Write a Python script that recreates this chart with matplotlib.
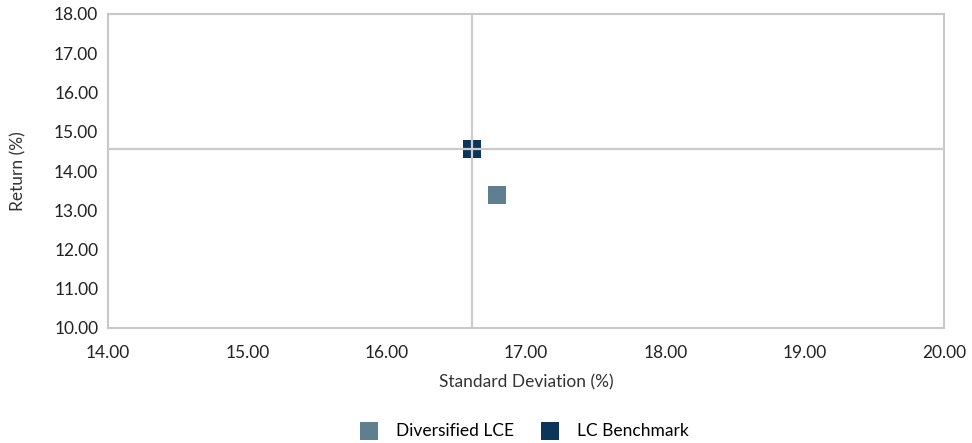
import matplotlib
matplotlib.use("Agg")
import matplotlib.pyplot as plt

plt.rcParams['font.family'] = ['Lato', 'DejaVu Sans']

series_names = ["Diversified LCE", "LC Benchmark"]
std_dev = [16.79, 16.61]
returns = [13.39, 14.56]
colors = ["#5F7F91", "#0B3559"]
bench_x = 16.61
bench_y = 14.56

fig = plt.figure(figsize=(9.72, 4.43), dpi=100)
ax = fig.add_axes([108/972, 1-328/443, (944-108)/972, (328-14)/443])

for name, x, y, c in zip(series_names, std_dev, returns, colors):
    ax.scatter([x], [y], marker='s', s=150, color=c, label=name, zorder=2, linewidths=0)

ax.axvline(bench_x, color="#cccccc", lw=1.6, zorder=3)
ax.axhline(bench_y, color="#cccccc", lw=1.6, zorder=3)

ax.set_xlim(14, 20)
ax.set_ylim(10, 18)
ax.set_xticks([14, 15, 16, 17, 18, 19, 20])
ax.set_yticks([10, 11, 12, 13, 14, 15, 16, 17, 18])
ax.xaxis.set_major_formatter(matplotlib.ticker.FormatStrFormatter('%.2f'))
ax.yaxis.set_major_formatter(matplotlib.ticker.FormatStrFormatter('%.2f'))
ax.tick_params(length=0, labelsize=12.5, colors="#222222")
ax.tick_params(axis='x', pad=12)
ax.tick_params(axis='y', pad=7)
for s in ax.spines.values():
    s.set_color("#c8c8c8")
    s.set_linewidth(1.5)

ax.set_xlabel("Standard Deviation (%)", fontsize=12.5, color="#333333", labelpad=10)
ax.set_ylabel("Return (%)", fontsize=12.5, color="#333333", labelpad=20)

leg = fig.legend(loc='center', bbox_to_anchor=(520/972, 1-431/443), ncol=2, frameon=False,
                 fontsize=12.5, handletextpad=0.55, columnspacing=1.1, markerscale=1.0)

fig.savefig("out.png", dpi=100)
